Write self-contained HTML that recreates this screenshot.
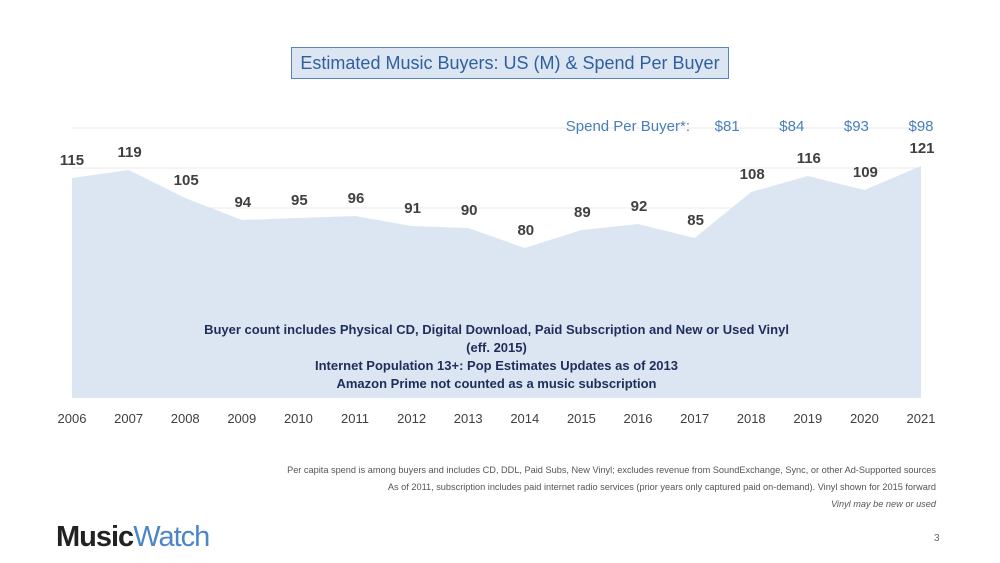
<!DOCTYPE html>
<html><head><meta charset="utf-8"><style>
body{margin:0;width:1000px;height:563px;background:#fff;font-family:"Liberation Sans",sans-serif;overflow:hidden;position:relative}
.abs{position:absolute}
</style></head><body>
<div class="abs" style="left:291px;top:47px;width:436px;height:30px;background:#dce6f2;border:1px solid #5a82c0;color:#2f5f9f;font-size:18px;line-height:30px;text-align:center">Estimated Music Buyers: US (M) &amp; Spend Per Buyer</div>
<svg class="abs" style="left:0;top:0" width="1000" height="563">
<g id="grid"></g>
<path id="area" fill="#dce6f2"></path>
<g id="labels"></g>
<g id="xticks"></g>
<g id="spend"></g>
</svg>
<div class="abs" style="left:72px;top:321px;width:849px;text-align:center;color:#1f2d5a;font-weight:bold;font-size:13px;line-height:18px">Buyer count includes Physical CD, Digital Download, Paid Subscription and New or Used Vinyl<br>(eff. 2015)<br>Internet Population 13+: Pop Estimates Updates as of 2013<br>Amazon Prime not counted as a music subscription</div>
<div class="abs" style="right:64px;top:462px;text-align:right;color:#555;font-size:9.2px;line-height:17px">Per capita spend is among buyers and includes CD, DDL, Paid Subs, New Vinyl; excludes revenue from SoundExchange, Sync, or other Ad-Supported sources<br>As of 2011, subscription includes paid internet radio services (prior years only captured paid on-demand). Vinyl shown for 2015 forward<br><i>Vinyl may be new or used</i></div>
<div class="abs" style="left:56px;top:521px;font-size:29px;letter-spacing:-1px"><b style="color:#222">Music</b><span style="color:#4a86c8">Watch</span></div>
<div class="abs" style="left:934px;top:533px;font-size:10px;color:#666">3</div>
<script>
const years=[2006,2007,2008,2009,2010,2011,2012,2013,2014,2015,2016,2017,2018,2019,2020,2021];
const buyers=[115,119,105,94,95,96,91,90,80,89,92,85,108,116,109,121];
const spendYears=[2018,2019,2020,2021];
const spendLabels=["$81","$84","$93","$98"];
const gridVals=[140,120,100];
const NS="http://www.w3.org/2000/svg";
const x=i=>72+i*(921-72)/(years.length-1);
const xy=yr=>x(years.indexOf(yr));
const y=v=>178-2*(v-115);
const base=398;
function mk(t,a,p,txt){const e=document.createElementNS(NS,t);for(const k in a)e.setAttribute(k,a[k]);if(txt!==undefined)e.textContent=txt;document.getElementById(p).appendChild(e);return e;}
gridVals.forEach(v=>{const l=mk('line',{x1:72,x2:921,y1:y(v),y2:y(v),stroke:'#e8e8e8'},'grid');

});
let d=`M${x(0)},${base}`;buyers.forEach((v,i)=>d+=` L${x(i)},${y(v)}`);d+=` L${x(years.length-1)},${base} Z`;
document.getElementById('area').setAttribute('d',d);
buyers.forEach((v,i)=>{const t=mk('text',{x:x(i)+(i==0?0:1),y:y(v)-13,'text-anchor':'middle','font-size':15,'font-weight':'bold',fill:'#404040'},'labels',v);

});
years.forEach((yr,i)=>{const t=mk('text',{x:x(i),y:423,'text-anchor':'middle','font-size':13,fill:'#404040'},'xticks',yr);

});
const sl=mk('text',{x:690,y:131,'text-anchor':'end','font-size':15,fill:'#4a7ebb'},'spend','Spend Per Buyer*:');


spendYears.forEach((yr,i)=>{const t=mk('text',{x:xy(yr)-24+i*8,y:131,'text-anchor':'middle','font-size':15,fill:'#4a7ebb'},'spend',spendLabels[i]);

});
</script>
</body></html>
